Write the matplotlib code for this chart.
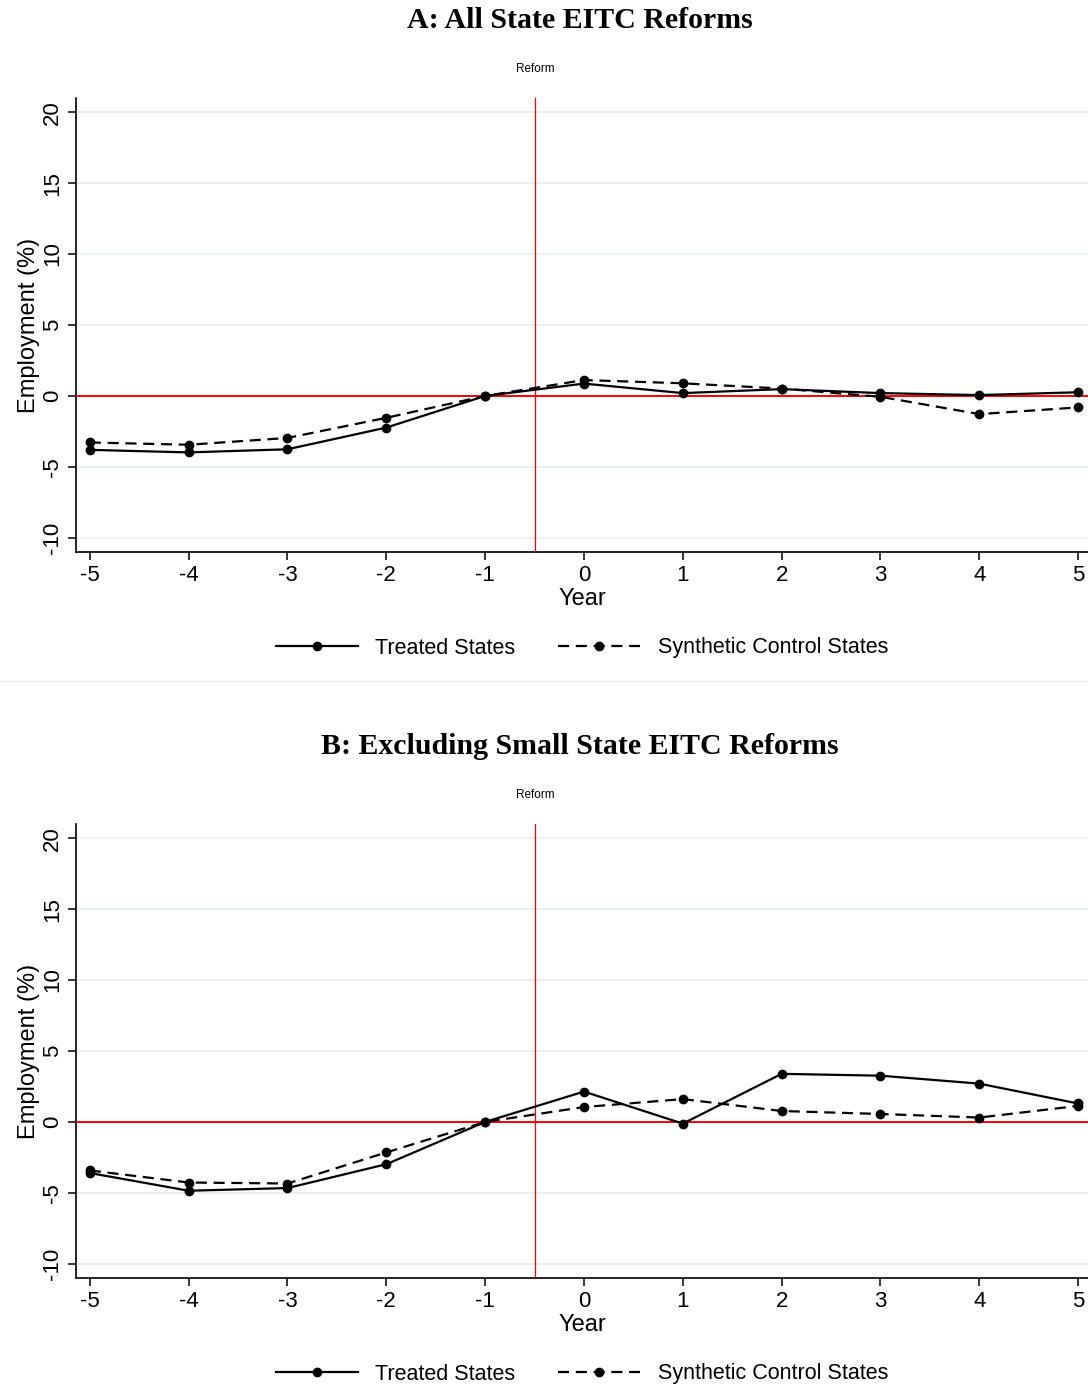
import matplotlib
matplotlib.use('Agg')
import matplotlib.pyplot as plt
from matplotlib.lines import Line2D

years = [-5, -4, -3, -2, -1, 0, 1, 2, 3, 4, 5]

# Panel A: all state EITC reforms
treated_a = [-3.8, -3.98, -3.76, -2.23, 0.0, 0.87, 0.2, 0.48, 0.2, 0.06, 0.26]
synth_a = [-3.28, -3.44, -2.96, -1.54, 0.0, 1.12, 0.89, 0.52, -0.06, -1.28, -0.81]

# Panel B: excluding small state EITC reforms
treated_b = [-3.6, -4.85, -4.66, -2.98, 0.0, 2.14, -0.12, 3.39, 3.26, 2.7, 1.3]
synth_b = [-3.42, -4.27, -4.34, -2.15, 0.0, 1.05, 1.61, 0.77, 0.56, 0.31, 1.13]

titles = ['A: All State EITC Reforms', 'B: Excluding Small State EITC Reforms']
yticks = [-10, -5, 0, 5, 10, 15, 20]

plt.rcParams['font.family'] = ['Liberation Sans', 'DejaVu Sans']

W, H = 1088, 1387
fig = plt.figure(figsize=(W / 100, H / 100), dpi=100)


def panel(offset, title, treated, synth):
    top, bottom = 98 + offset, 552 + offset
    ax = fig.add_axes([76 / W, 1 - bottom / H, 1 - 76 / W, (bottom - top) / H])
    ax.plot(years, treated, color='black', lw=1.6, marker='o', ms=6, zorder=4)
    ax.plot(years, synth, color='black', lw=1.6, ls=(0, (5, 3)), marker='o', ms=6, zorder=4)
    ax.axhline(0, color='red', lw=1.4, zorder=3)
    ax.axvline(-0.5, color='red', lw=0.9, zorder=3)
    ax.set_xlim(-5.14, 5.1)
    ax.set_ylim(-11, 21)
    ax.set_xticks(years)
    ax.set_xticklabels([str(y) for y in years])
    ax.set_yticks(yticks)
    ax.set_yticklabels([str(y) for y in yticks], rotation=90, va='center')
    ax.tick_params(labelsize=16, length=6, width=1.1, direction='out')
    ax.grid(axis='y', color='#eaf1f3', lw=1.4)
    ax.set_axisbelow(True)
    for s in ['top', 'right']:
        ax.spines[s].set_visible(False)
    for s in ['left', 'bottom']:
        ax.spines[s].set_linewidth(1.2)
    ax.set_xlabel('Year', fontsize=17, labelpad=1)
    ax.set_ylabel('Employment (%)', fontsize=17, labelpad=1)
    fig.text(535 / W, 1 - (69 + offset) / H, 'Reform', ha='center', va='center', fontsize=8.5)
    fig.text(580 / W, 1 - (21 + offset) / H, title, ha='center', va='center',
             fontsize=21.5, fontweight='bold', family=['Liberation Serif', 'DejaVu Serif'])
    handles = [
        Line2D([], [], color='black', lw=1.6, marker='o', ms=6),
        Line2D([], [], color='black', lw=1.6, ls=(0, (5, 3)), marker='o', ms=6),
    ]
    fig.legend(handles, ['Treated States', 'Synthetic Control States'],
               loc='center', bbox_to_anchor=(0.535, 1 - (648 + offset) / H),
               ncol=2, frameon=False, fontsize=15.5, handlelength=3.8,
               columnspacing=2.0, handletextpad=0.8)


panel(0, titles[0], treated_a, synth_a)
panel(726, titles[1], treated_b, synth_b)

fig.add_artist(Line2D([0, 1], [1 - 681 / H, 1 - 681 / H], color='#eeeeee', lw=1))

fig.savefig('out.png', dpi=100)
